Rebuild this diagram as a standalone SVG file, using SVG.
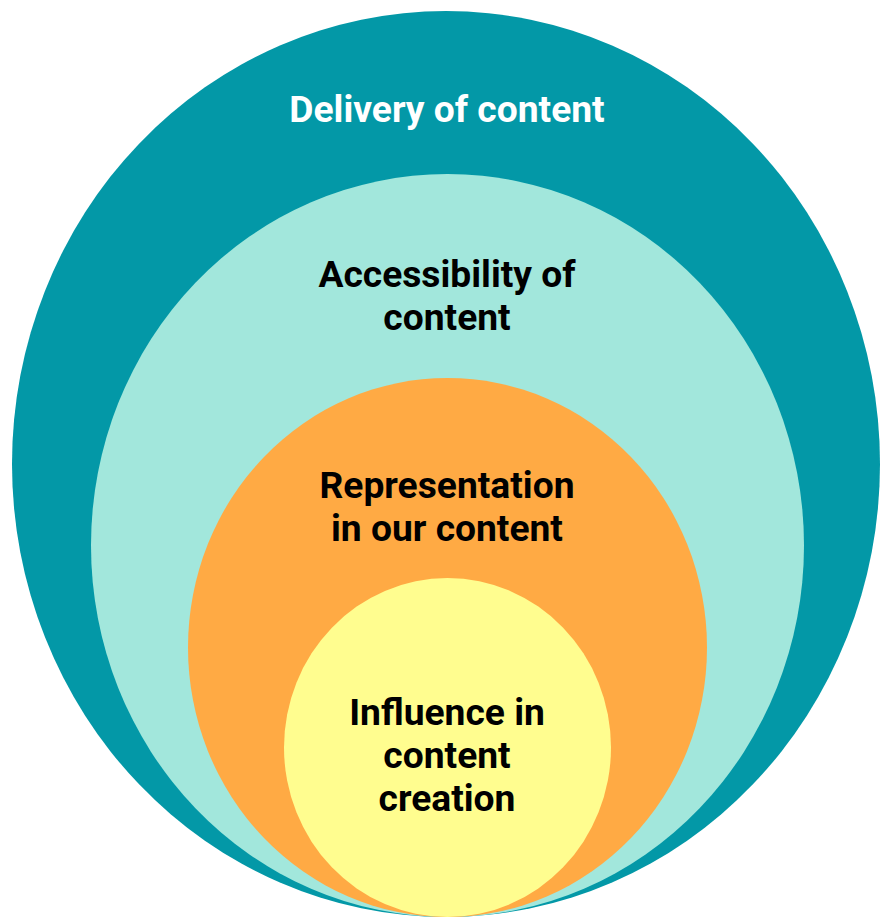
<svg xmlns="http://www.w3.org/2000/svg" width="881" height="918" viewBox="0 0 881 918">
<style>
text{font-family:Roboto,"Liberation Sans",sans-serif;font-weight:bold;font-size:37.2px;text-anchor:middle}
.w{fill:#ffffff}
.k{fill:#000000}
</style>
<rect width="881" height="918" fill="#ffffff"/>
<g id="delivery">
<ellipse cx="446" cy="464" rx="434" ry="453" fill="#0398A7"/>
<text class="w" x="447" y="122">Delivery of content</text>
</g>
<g id="accessibility">
<ellipse cx="447.5" cy="545.5" rx="356.5" ry="371.5" fill="#A2E7DC"/>
<text class="k" x="447" y="287">Accessibility of</text>
<text class="k" x="447" y="330">content</text>
</g>
<g id="representation">
<ellipse cx="447.5" cy="647.5" rx="259.5" ry="269.5" fill="#FFAA44"/>
<text class="k" x="447" y="498">Representation</text>
<text class="k" x="447" y="541">in our content</text>
</g>
<g id="influence">
<ellipse cx="447.5" cy="747.5" rx="163.5" ry="169.5" fill="#FFFD8F"/>
<text class="k" x="447" y="725">Influence in</text>
<text class="k" x="447" y="768">content</text>
<text class="k" x="447" y="811">creation</text>
</g>
<g id="connectors"></g>
</svg>
